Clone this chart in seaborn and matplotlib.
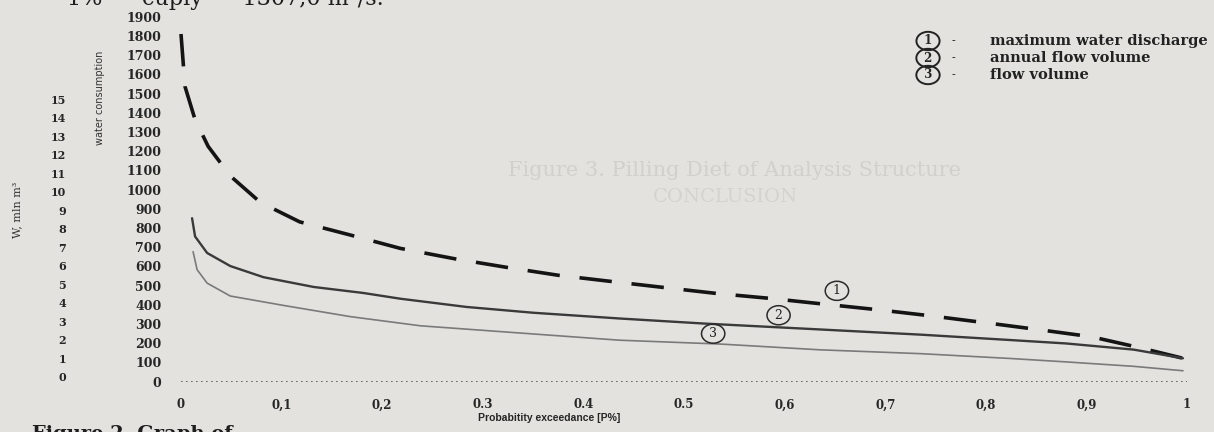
import numpy as np
import pandas as pd
import seaborn as sns
import matplotlib.pyplot as plt

# probability of exceedance (fraction) and values
x_max = [0.0, 0.004, 0.014, 0.027, 0.049, 0.079, 0.118, 0.168, 0.218, 0.272, 0.324, 0.375,
         0.429, 0.479, 0.533, 0.585, 0.637, 0.692, 0.745, 0.807, 0.854, 0.905, 0.953, 0.996]
q_max = [1810, 1536, 1364, 1225, 1071, 933, 832, 764, 694, 640, 595, 554,
         521, 491, 459, 434, 405, 375, 343, 302, 270, 234, 177, 122]

x_annual = [0.011, 0.014, 0.026, 0.049, 0.082, 0.132, 0.181, 0.218, 0.284, 0.350, 0.436,
            0.519, 0.635, 0.735, 0.824, 0.880, 0.947, 0.996]
w_annual = [851, 756, 670, 602, 544, 493, 462, 432, 389, 359, 329,
            303, 272, 245, 217, 199, 167, 122]

x_flow = [0.012, 0.016, 0.026, 0.049, 0.102, 0.168, 0.238, 0.317, 0.436, 0.536, 0.635,
          0.735, 0.824, 0.880, 0.947, 0.996]
w_flow = [677, 583, 513, 446, 397, 339, 291, 261, 216, 196, 166,
          146, 121, 103, 80, 57]

x_ticks = [0, 0.1, 0.2, 0.3, 0.4, 0.5, 0.6, 0.7, 0.8, 0.9, 1.0]
x_ticklabels = ['0', '0,1', '0,2', '0.3', '0.4', '0.5', '0,6', '0,7', '0,8', '0,9', '1']
y_ticks = list(range(0, 2000, 100))
w_ticks = list(range(0, 16))

legend_labels = ['maximum water discharge', 'annual flow volume', 'flow volume']

sns.set_theme(style='white')
plt.rcParams['font.family'] = ['DejaVu Serif']

W, H = 1214, 432
bg = '#e3e2df'
ink = '#262626'
fig = plt.figure(figsize=(W / 100, H / 100), dpi=100, facecolor=bg)
ax = fig.add_axes([181 / W, 1 - 381.7 / H, 1006 / W, 365 / H])
ax.set_facecolor('none')

sns.lineplot(x=x_max, y=q_max, ax=ax, color='#141414', lw=2.6, errorbar=None,
             linestyle=(0, (9, 5.5)), dash_capstyle='butt')
sns.lineplot(x=x_annual, y=w_annual, ax=ax, color='#3a3a3a', lw=1.7, errorbar=None)
sns.lineplot(x=x_flow, y=w_flow, ax=ax, color='#7a7a7a', lw=1.2, errorbar=None)
for ln in ax.lines:
    ln.set_clip_on(False)

ax.axhline(0, color='#555555', lw=1.2, ls=(0, (1, 2)))

ax.set_xlim(0, 1)
ax.set_ylim(0, 1900)
for s in ax.spines.values():
    s.set_visible(False)

ax.set_xticks(x_ticks)
ax.set_xticklabels(x_ticklabels, fontsize=8.5, fontweight='bold', color=ink)
ax.set_yticks(y_ticks)
ax.set_yticklabels([str(v) for v in y_ticks], fontsize=9, fontweight='bold', color=ink)
ax.tick_params(axis='x', length=0, pad=12)
ax.tick_params(axis='y', length=0, pad=14)

ax.set_xlabel('Probabitity exceedance [P%]', fontsize=7.5, fontweight='bold',
              family='Liberation Sans', color=ink)
ax.xaxis.set_label_coords(0.366, -0.085)

# second scale on the left (W, mln m3)
sec = ax.secondary_yaxis((69 - 181) / 1006,
                         functions=(lambda v: (0.192 * v - 4.7) / 18.5,
                                    lambda w: (18.5 * w + 4.7) / 0.192))
sec.set_yticks(w_ticks)
sec.set_yticklabels([str(v) for v in w_ticks], fontsize=8, fontweight='bold', color=ink)
sec.tick_params(length=0, pad=2)
sec.spines['left'].set_visible(False)

fig.text(100 / W, 1 - 98 / H, 'water consumption', rotation=90, fontsize=7,
         family='DejaVu Sans', ha='center', va='center', color='#333333')
fig.text(17 / W, 1 - 210 / H, 'W, mln m³', rotation=90, fontsize=8,
         ha='center', va='center', color='#333333')

# circled curve numbers on the plot
circ = dict(boxstyle='ellipse,pad=0.02', fc='none', ec='#2a2a2a', lw=1.1)
ax.text(0.652, 473, ' 1 ', fontsize=9, ha='center', va='center', bbox=circ, color='#222222')
ax.text(0.594, 346, ' 2 ', fontsize=9, ha='center', va='center', bbox=circ, color='#222222')
ax.text(0.529, 250, ' 3 ', fontsize=9, ha='center', va='center', bbox=circ, color='#222222')

# legend drawn as text
for i, lab in enumerate(legend_labels):
    yy = 1 - (41 + 17 * i) / H
    fig.text(928 / W, yy, ' ' + str(i + 1) + ' ', fontsize=8.5, fontweight='bold',
             ha='center', va='center',
             bbox=dict(boxstyle='ellipse,pad=0.0', fc='none', ec='#222222', lw=1.4))
    fig.text(952 / W, yy, '-', fontsize=8, ha='left', va='center', color='#222222')
    fig.text(990 / W, yy, lab, fontsize=10.5, fontweight='bold', ha='left', va='center',
             color='#222222')

# page text around the graph (cut by the photo)
fig.text(67 / W, 1 - 5 / H, '1%  –  cupiy  –  1307,0 m³/s.', fontsize=16,
         ha='left', va='baseline', color='#1e1e1e')
fig.text(32 / W, 1 - 425 / H, 'Figure 2. Graph of', fontsize=14, fontweight='bold',
         ha='left', va='top', color='#1e1e1e')
fig.text(735 / W, 1 - 170 / H, 'Figure 3. Pilling Diet of Analysis Structure', fontsize=15,
         ha='center', va='center', color='#d1d0cd')
fig.text(725 / W, 1 - 197 / H, 'CONCLUSION', fontsize=14, ha='center', va='center',
         color='#d4d3d0')

fig.savefig('out.png', dpi=100, facecolor=bg)
